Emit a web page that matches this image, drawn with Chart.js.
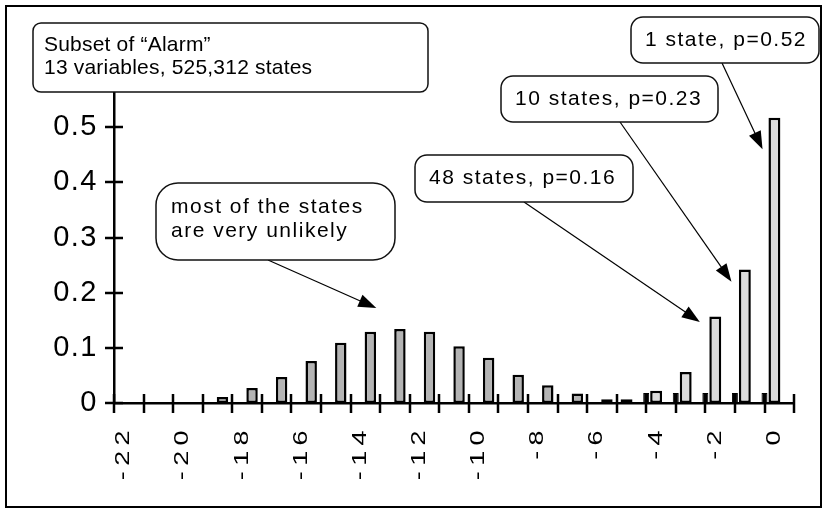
<!DOCTYPE html>
<html lang="en">
<head>
<meta charset="UTF-8">
<title>Subset of Alarm</title>
<script src="https://cdn.jsdelivr.net/npm/chart.js@4.4.0/dist/chart.umd.min.js"></script>
<style>
  html, body { margin: 0; padding: 0; background: #fff; }
  #wrap { width: 826px; height: 511px; position: relative; }
</style>
</head>
<body>
<div id="wrap"><canvas id="alarm-chart"></canvas></div>
<script>
// log10 of state probability (bins), probability mass per bin
const categories = ['-22', '-21', '-20', '-19', '-18', '-17', '-16', '-15', '-14', '-13', '-12',
                    '-11', '-10', '-9', '-8', '-7', '-6', '-5', '-4', '-3', '-2', '-1', '0'];
const shownLabels = ['-22', '-20', '-18', '-16', '-14', '-12', '-10', '-8', '-6', '-4', '-2', '0'];

// dark grey bars (the bulk of the states)
const bulkMass = [null, null, null, 0.011, 0.027, 0.047, 0.076, 0.109, 0.129, 0.134, 0.129,
                  0.103, 0.082, 0.051, 0.032, 0.017, 0.007, null, null, null, null, null, null];
// light grey bars (the few likely states)
const likelyMass = [null, null, null, null, null, null, null, null, null, null, null,
                    null, null, null, null, null, null, 0.007, 0.022, 0.056, 0.157, 0.242, 0.517];
// small black bars at the foot of the light ones
const footMass = [null, null, null, null, null, null, null, null, null, null, null,
                  null, null, null, null, null, null, null, 0.018, 0.018, 0.018, 0.018, 0.018];
const empty = categories.map(() => null);

const yTicks = [0, 0.1, 0.2, 0.3, 0.4, 0.5];

const noteTexts = [
  ['Subset of \u201cAlarm\u201d', '13 variables, 525,312 states'],
  ['1 state, p=0.52'],
  ['10 states, p=0.23'],
  ['48 states, p=0.16'],
  ['most of the states', 'are very unlikely']
];

// stretch / space the tick labels a bit like the old bitmap fonts
function patchLabels(scale, spacing, stretch, dx) {
  if (scale._patched) return;
  const orig = scale.drawLabels;
  scale.drawLabels = function (area) {
    const c = this.ctx;
    const top = this.top + this.options.ticks.padding;
    c.save();
    c.letterSpacing = spacing + 'px';
    c.translate(dx, top);
    c.scale(1, stretch);
    c.translate(0, -top);
    orig.call(this, area);
    c.restore();
  };
  scale._patched = true;
}

function roundBox(ctx, x, y, w, h, r) {
  ctx.beginPath();
  ctx.roundRect(x, y, w, h, r);
  ctx.fillStyle = '#fff';
  ctx.fill();
  ctx.lineWidth = 1.5;
  ctx.strokeStyle = '#111';
  ctx.stroke();
}

function writeLines(ctx, lines, x, y, lh, spacing) {
  ctx.fillStyle = '#000';
  ctx.font = '21px "Liberation Sans", Arial, sans-serif';
  ctx.letterSpacing = spacing + 'px';
  ctx.textBaseline = 'alphabetic';
  ctx.textAlign = 'left';
  lines.forEach((t, i) => ctx.fillText(t, x, y + i * lh));
  ctx.letterSpacing = '0px';
}

function arrow(ctx, x1, y1, x2, y2) {
  const a = Math.atan2(y2 - y1, x2 - x1);
  const len = 18, hw = 6.5;
  ctx.strokeStyle = '#000';
  ctx.lineWidth = 1.2;
  ctx.beginPath();
  ctx.moveTo(x1, y1);
  ctx.lineTo(x2 - Math.cos(a) * len * 0.8, y2 - Math.sin(a) * len * 0.8);
  ctx.stroke();
  ctx.beginPath();
  ctx.moveTo(x2, y2);
  ctx.lineTo(x2 - Math.cos(a) * len - Math.sin(a) * hw, y2 - Math.sin(a) * len + Math.cos(a) * hw);
  ctx.lineTo(x2 - Math.cos(a) * len + Math.sin(a) * hw, y2 - Math.sin(a) * len - Math.cos(a) * hw);
  ctx.closePath();
  ctx.fillStyle = '#000';
  ctx.fill();
}

const decorations = {
  id: 'decorations',
  beforeDraw(chart) {
    patchLabels(chart.scales.x, 4, 1.35, -5);
    patchLabels(chart.scales.y, 1.5, 1, 0);
  },
  afterDraw(chart) {
    const ctx = chart.ctx;
    const xs = chart.scales.x, ys = chart.scales.y;
    const cw = xs.getPixelForValue(1) - xs.getPixelForValue(0);
    const y0 = ys.getPixelForValue(0);
    const x0 = xs.left;
    ctx.save();

    // tick marks crossing the axes
    ctx.strokeStyle = '#000';
    ctx.lineWidth = 2.5;
    ctx.beginPath();
    for (let i = 0; i <= categories.length; i++) {
      const px = Math.round(xs.getPixelForValue(i) - cw / 2);
      ctx.moveTo(px, y0 - 9);
      ctx.lineTo(px, y0 + 10);
    }
    yTicks.forEach(v => {
      const py = Math.round(ys.getPixelForValue(v));
      ctx.moveTo(x0 - 9, py);
      ctx.lineTo(x0 + 9, py);
    });
    ctx.stroke();

    // arrows from the notes to the bars
    const tip = (cat, v, side) => [xs.getPixelForValue(categories.indexOf(cat)) + side * cw, ys.getPixelForValue(v)];
    let t = tip('0', 0.46, -0.57);   arrow(ctx, 722, 63, t[0], t[1]);
    t = tip('-1', 0.22, -0.62);      arrow(ctx, 620, 122, t[0], t[1]);
    t = tip('-2', 0.147, -0.69);     arrow(ctx, 524, 202, t[0], t[1]);
    t = tip('-13', 0.172, -0.63);    arrow(ctx, 268, 260, t[0], t[1]);

    // notes
    roundBox(ctx, 33, 23, 395, 69, 8);
    writeLines(ctx, noteTexts[0], 44, 51, 23, 0.2);
    roundBox(ctx, 631, 17, 188, 46, 12);
    writeLines(ctx, noteTexts[1], 645, 46, 23, 1.5);
    roundBox(ctx, 501, 76, 217, 46, 12);
    writeLines(ctx, noteTexts[2], 515, 105, 23, 1.5);
    roundBox(ctx, 415, 155, 218, 47, 12);
    writeLines(ctx, noteTexts[3], 429, 184, 23, 1.5);
    roundBox(ctx, 156, 183, 239, 77, 22);
    writeLines(ctx, noteTexts[4], 171, 213, 24, 1.5);

    // outer frame
    ctx.lineWidth = 2;
    ctx.strokeStyle = '#000';
    ctx.strokeRect(6, 6, 815, 501);
    ctx.restore();
  }
};

const ctx = document.getElementById('alarm-chart').getContext('2d');
const chart = new Chart(ctx, {
  type: 'bar',
  data: {
    labels: categories,
    datasets: [
      { label: 'foot', data: footMass, backgroundColor: '#000', borderColor: '#000', borderWidth: 1, barPercentage: 0.6 },
      { label: 'likely', data: likelyMass, backgroundColor: '#dcdcdc', borderColor: '#000', borderWidth: 2.5, barPercentage: 1.2 },
      { label: 'bulk', data: bulkMass, backgroundColor: '#b4b4b4', borderColor: '#000', borderWidth: 2.5, barPercentage: 1.15 },
      { label: '', data: empty }
    ]
  },
  options: {
    responsive: true,
    maintainAspectRatio: false,
    animation: false,
    layout: { padding: { top: 72, right: 28, left: 0, bottom: 0 } },
    datasets: { bar: { categoryPercentage: 1.345, borderSkipped: false } },
    plugins: { legend: { display: false }, tooltip: { enabled: false } },
    scales: {
      x: {
        offset: true,
        grid: { display: false, drawTicks: false, offset: true },
        border: { color: '#000', width: 2.5 },
        ticks: {
          autoSkip: false,
          minRotation: 90,
          maxRotation: 90,
          padding: 22,
          color: '#000',
          font: { family: 'Liberation Sans', size: 20 },
          callback: (v, i) => shownLabels.includes(categories[i]) ? categories[i] : ''
        },
        afterFit: s => { s.height = 108; }
      },
      y: {
        min: 0,
        max: 0.6,
        grid: { display: false, drawTicks: false },
        border: { color: '#000', width: 2.5 },
        ticks: {
          stepSize: 0.1,
          padding: 16,
          color: '#000',
          font: { family: 'Liberation Sans', size: 29 },
          callback: v => v > 0.55 ? '' : String(+v.toFixed(1))
        },
        afterFit: s => { s.width = 114; }
      }
    }
  },
  plugins: [decorations]
});
</script>
</body>
</html>
